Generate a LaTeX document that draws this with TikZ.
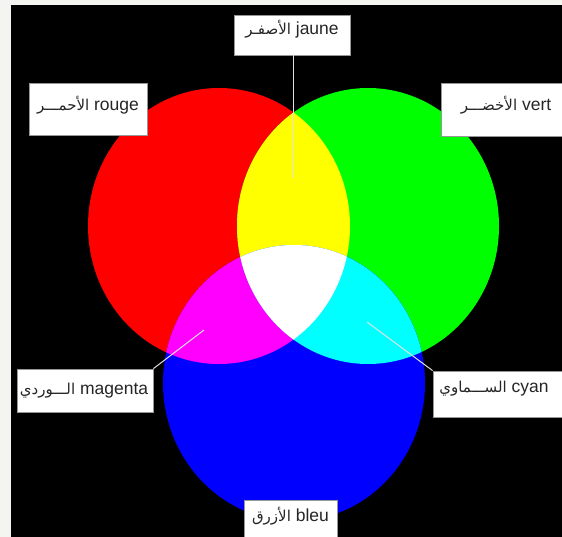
\documentclass[tikz,border=0pt]{standalone}
\usepackage{fontspec}
\setmainfont{Liberation Sans}
\newfontfamily\arabicfont[Script=Arabic]{DejaVu Sans}
\TeXXeTstate=1
\definecolor{rgbR}{RGB}{255,0,0}
\definecolor{rgbG}{RGB}{0,255,0}
\definecolor{rgbB}{RGB}{0,0,255}
\definecolor{rgbY}{RGB}{255,255,0}
\definecolor{rgbM}{RGB}{255,0,255}
\definecolor{rgbC}{RGB}{0,255,255}
\definecolor{boxline}{RGB}{150,150,150}
\definecolor{conline}{RGB}{225,225,225}
\definecolor{margin}{RGB}{244,244,240}
\newcommand{\ar}[1]{{\arabicfont\fontsize{15}{18}\selectfont\beginR #1\endR}}
\begin{document}
\begin{tikzpicture}[x=1pt,y=-1pt,
  labelbox/.style={draw=boxline,fill=white,line width=0.8pt,inner sep=0pt},
  labeltext/.style={inner sep=0pt,font=\fontsize{17.5}{21}\selectfont,text=black!85},
  conn/.style={draw=conline,line width=1pt}]
\useasboundingbox (0,0) rectangle (562,537);
\fill[margin] (0,0) rectangle (562,537);
\fill[black] (11,5) rectangle (562,537);
% circles (ellipses)
\def\redE{(219,226) ellipse [x radius=131,y radius=138]}
\def\greenE{(368,226) ellipse [x radius=131,y radius=138]}
\def\blueE{(294,383) ellipse [x radius=131,y radius=138]}
\fill[rgbR] \redE;
\fill[rgbG] \greenE;
\fill[rgbB] \blueE;
\begin{scope}\clip \redE; \fill[rgbY] \greenE; \end{scope}
\begin{scope}\clip \redE; \fill[rgbM] \blueE; \end{scope}
\begin{scope}\clip \greenE; \fill[rgbC] \blueE; \end{scope}
\begin{scope}\clip \redE; \clip \greenE; \fill[white] \blueE; \end{scope}
% label boxes
\node[labelbox,minimum width=116pt,minimum height=40pt] (jbox) at (292,35) {};
\node[labeltext] (jtext) at (292,29) {\ar{الأصفـر} jaune};
\node[labelbox,minimum width=118pt,minimum height=52pt] (rbox) at (88,109) {};
\node[labeltext] (rtext) at (88,105) {\ar{الأحمـــر} rouge};
\node[labelbox,minimum width=121pt,minimum height=53pt] (vbox) at (502,109.5) {};
\node[labeltext] (vtext) at (506,105) {\ar{الأخضـــر} vert};
\node[labelbox,minimum width=136pt,minimum height=43pt] (mbox) at (85,390.5) {};
\node[labeltext] (mtext) at (84,391) {\ar{الـــوردي} magenta};
\node[labelbox,minimum width=129pt,minimum height=46pt] (cbox) at (497.5,394) {};
\node[labeltext] (ctext) at (494,389) {\ar{الســـماوي} cyan};
\node[labelbox,minimum width=93pt,minimum height=46pt] (bbox) at (290.5,523) {};
\node[labeltext] (btext) at (290.5,516) {\ar{الأزرق} bleu};
% connectors
\coordinate (jend) at (293,178);
\coordinate (mend) at (204,330);
\coordinate (cend) at (367,322);
\draw[conn] (jbox.south -| jend) -- (jend);
\draw[conn] (mbox.north east) -- (mend);
\draw[conn] (cbox.north west) -- (cend);
\end{tikzpicture}
\end{document}
